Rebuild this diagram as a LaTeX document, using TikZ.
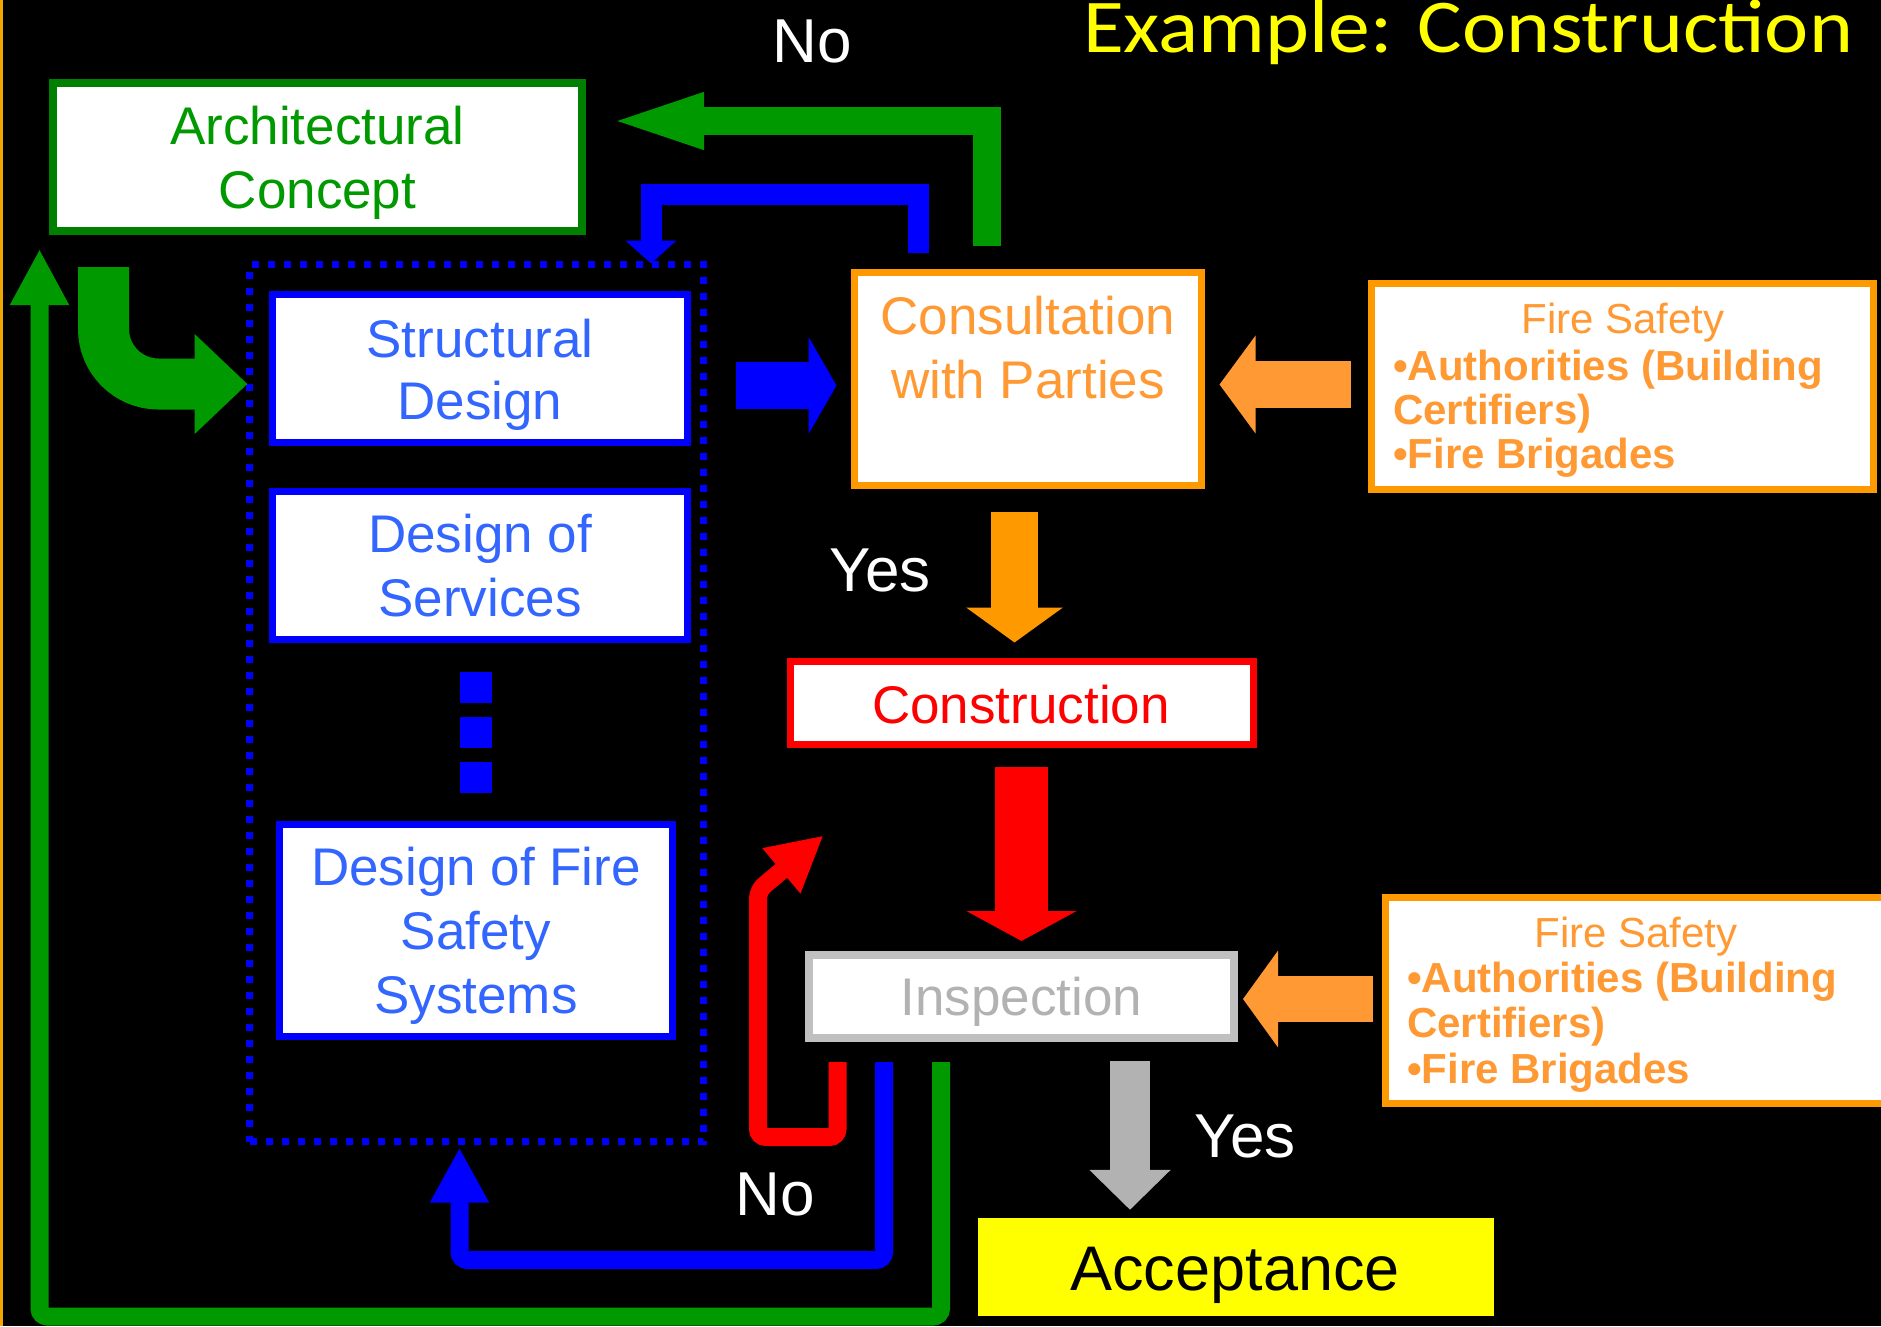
\documentclass[tikz,border=0pt]{standalone}
\usepackage{fontspec}
\setmainfont{Liberation Sans}
\newfontfamily\titlefont{Carlito}
\usetikzlibrary{arrows.meta,calc}
\definecolor{gr}{HTML}{009900}
\definecolor{grB}{HTML}{008000}
\definecolor{bl}{HTML}{0000FF}
\definecolor{blT}{HTML}{3366FF}
\definecolor{orB}{HTML}{FF9900}
\definecolor{orT}{HTML}{FF9933}
\definecolor{rd}{HTML}{FF0000}
\definecolor{gyB}{HTML}{C0C0C0}
\definecolor{gyT}{HTML}{B2B2B2}
\definecolor{yl}{HTML}{FFFF00}
\definecolor{edgeC}{HTML}{F0A800}
\begin{document}
\begin{tikzpicture}[x=1pt,y=-1pt,
  box/.style={draw, fill=white, inner sep=0pt, line width=7pt},
  dotbox/.style={draw=bl, line width=7pt, dash pattern=on 7pt off 9pt, inner sep=0pt},
  txt/.style={inner sep=0pt, align=center},
  big/.style={font=\fontsize{53}{64}\selectfont},
  lbl/.style={inner sep=0pt, anchor=base, text=white, font=\fontsize{62}{70}\selectfont},
  fshead/.style={inner sep=0pt, anchor=base, text=orT, font=\fontsize{42}{46}\selectfont},
  fsbody/.style={inner sep=0pt, anchor=north west, align=left, text=orT},
  conn/.style={line join=miter}
]
\useasboundingbox (0,0) rectangle (1881,1326);
\fill[black] (0,0) rectangle (1881,1326);
\clip (0,0) rectangle (1881,1326);
\fill[edgeC] (0,0) rectangle (3,1326);

% title
\node[anchor=base, inner sep=0pt, text=yl, font=\titlefont\fontsize{76}{80}\selectfont] (title) at (1468,52) {\scalebox{1.10}[1]{Example: Construction}};

% group of design boxes
\node[dotbox, minimum width=454pt, minimum height=877pt] (grp) at (476.5,703) {};

% boxes
\node[box, draw=grB, line width=8pt, minimum width=529pt, minimum height=148pt] (ac) at (317.5,157) {};
\node[txt, big, text=gr] (acT) at (317.5,162.3) {Architectural\\Concept};

\node[box, draw=bl, minimum width=415pt, minimum height=148pt] (sd) at (480,368.5) {};
\node[txt, text=blT, font=\fontsize{53}{62}\selectfont] (sdT) at (480,374.3) {Structural\\Design};

\node[box, draw=bl, minimum width=415pt, minimum height=148pt] (ds) at (480,565.5) {};
\node[txt, big, text=blT] (dsT) at (480,565.8) {Design of\\Services};

\node[box, draw=bl, minimum width=393pt, minimum height=212pt] (dfs) at (476,930.5) {};
\node[txt, big, text=blT] (dfsT) at (476,935.3) {Design of Fire\\Safety\\Systems};

\fill[bl] (460,672) rectangle (492,703);
\fill[bl] (460,717) rectangle (492,748);
\fill[bl] (460,762) rectangle (492,793);

\node[box, draw=orB, minimum width=347pt, minimum height=213pt] (cons) at (1028,379) {};
\node[txt, big, text=orT] (consT) at (1028,347.8) {Consultation\\with Parties};

\node[box, draw=orB, minimum width=502pt, minimum height=206pt] (fs1) at (1622.5,386.5) {};
\node[fshead] (fs1h) at (1623,333) {Fire Safety};
\node[fsbody, font=\bfseries\fontsize{42}{44}\selectfont] (fs1b) at (1393,349.5) {•Authorities (Building\\Certifiers)\\•Fire Brigades};

\node[box, draw=rd, minimum width=463pt, minimum height=83pt] (constr) at (1022,703) {};
\node[txt, big, anchor=base, text=rd] (constrT) at (1021,723) {Construction};

\node[box, draw=gyB, line width=8pt, minimum width=425pt, minimum height=83pt] (insp) at (1021.5,996.5) {};
\node[txt, big, anchor=base, text=gyT] (inspT) at (1021.5,1015) {Inspection};

\node[box, draw=orB, minimum width=502pt, minimum height=206pt] (fs2) at (1636.5,1000.5) {};
\node[fshead] (fs2h) at (1636,947) {Fire Safety};
\node[fsbody, font=\bfseries\fontsize{42}{45.5}\selectfont] (fs2b) at (1407,961.5) {•Authorities (Building\\Certifiers)\\•Fire Brigades};

\node[fill=yl, inner sep=0pt, minimum width=516pt, minimum height=98pt] (acc) at (1236,1267) {};
\node[txt, anchor=base, text=black, font=\fontsize{63}{70}\selectfont] (accT) at (1235,1290) {Acceptance};

% labels
\node[lbl] (noTop) at (812,62) {No};
\node[lbl] (yesTop) at (880,591) {Yes};
\node[lbl] (yesBot) at (1245,1157) {Yes};
\node[lbl] (noBot) at (775,1215) {No};

% connectors
\draw[conn, gr, line width=28pt, -{Triangle[length=107pt,width=47pt]}]
  ($(cons.north west)+(136,-23.5)$) |- ($(ac.east)+(11,-36)$);
\draw[conn, bl, line width=21pt, -{Triangle[length=23pt,width=50pt]}]
  ($(cons.north west)+(67.5,-16.5)$) |- ($(grp.north)+(174.5,-67)$) -- ($(grp.north)+(174.5,2.5)$);
\draw[conn, gr, line width=51pt, rounded corners=55pt, -{Triangle[length=53pt,width=97pt]}]
  ($(ac.south west)+(54.5,32)$) |- ($(grp.west |- sd.west)+(1.5,15.5)$);
\draw[conn, bl, line width=47pt, -{Triangle[length=28pt,width=96pt]}]
  ($(sd.east)+(44.5,17)$) -- ($(cons.west |- sd.east)+(-14.5,17)$);
\draw[conn, orT, line width=47pt, -{Triangle[length=36pt,width=96pt]}]
  ($(fs1.west)+(-17.5,-2)$) -- ($(cons.east |- fs1.west)+(14.5,-2)$);
\draw[conn, orB, line width=47pt, -{Triangle[length=35pt,width=95pt]}]
  ($(cons.south)+(-13.5,22.5)$) -- ($(constr.north)+(-7.5,-15.5)$);
\draw[conn, rd, line width=53pt, -{Triangle[length=30pt,width=109pt]}]
  ($(constr.south)+(-0.5,18.5)$) -- ($(insp.north)+(0,-10)$);
\draw[conn, gyT, line width=40pt, -{Triangle[length=40pt,width=79pt]}]
  ($(insp.south)+(108.5,19)$) -- ($(acc.north)+(-106,-8)$);
\draw[conn, orT, line width=46pt, -{Triangle[length=35pt,width=95pt]}]
  ($(fs2.west)+(-9.5,-1.5)$) -- ($(insp.east |- fs2.west)+(5,-1.5)$);
\draw[conn, gr, line width=18pt, rounded corners=8pt, -{Triangle[length=56pt,width=55pt]}]
  ($(insp.south)+(-80.5,20)$) -- ++(0,254.5) -| ($(ac.south west)+(-9.5,14)$);
\draw[conn, bl, line width=18pt, rounded corners=8pt, -{Triangle[length=55pt,width=55pt]}]
  ($(insp.south)+(-137.5,20)$) -- ++(0,198) -| ($(grp.south)+(-17,2.5)$);
\draw[conn, rd, line width=18pt, rounded corners=8pt, -{Triangle[length=55pt,width=55pt]}]
  ($(insp.south)+(-184,20)$) -- ++(0,75) -| ($(constr.south west)+(-29,142.5)$) -- ($(constr.south west)+(36.5,87.5)$);
\end{tikzpicture}
\end{document}
